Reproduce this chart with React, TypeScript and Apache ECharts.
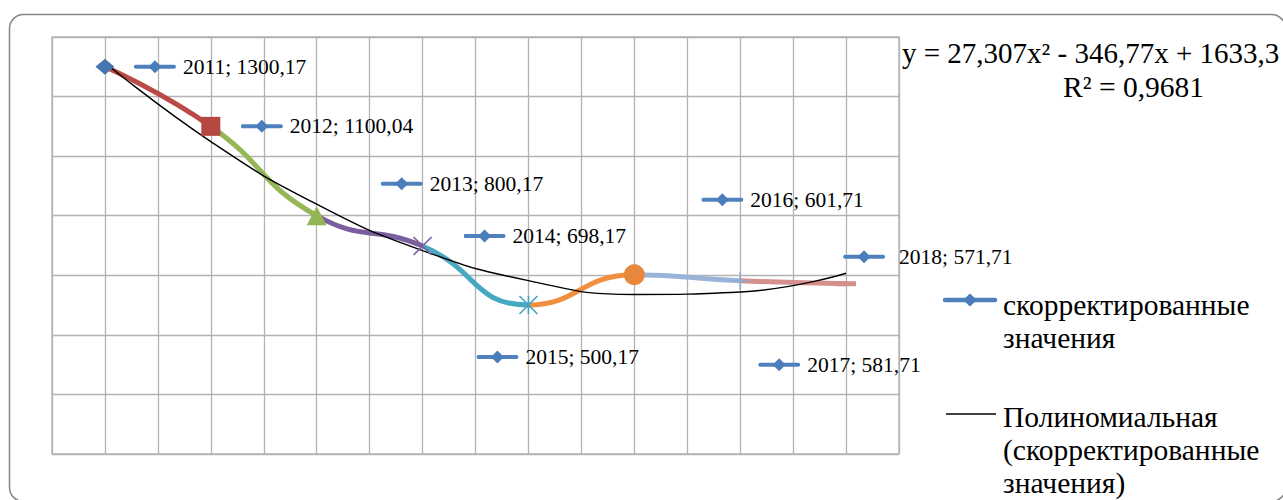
import React, { useEffect, useRef } from "react";
import * as echarts from "echarts";

// ---- data ----
const years = ["2011", "2012", "2013", "2014", "2015", "2016", "2017", "2018"];
const xPositions = [1, 2, 3, 4, 5, 6, 7, 8];
const values = [1300.17, 1100.04, 800.17, 698.17, 500.17, 601.71, 581.71, 571.71];
const valueLabels = ["1300,17", "1100,04", "800,17", "698,17", "500,17", "601,71", "581,71", "571,71"];
// polynomial trendline values read at each year
const trendValues = [1313.8, 1049.0, 838.8, 683.1, 582.1, 535.7, 544.0, 606.8];
const yAxisRange = { min: 0, max: 1400, interval: 200 };
const xAxisRange = { min: 0.5, max: 8.5, interval: 0.5 };
const seriesName = "скорректированные значения";
const trendName = "Полиномиальная (скорректированные значения)";
const legendLabels = ["скорректированные\nзначения", "Полиномиальная\n(скорректированные\nзначения)"];
const equationLines = ["y = 27,307x² - 346,77x + 1633,3", "R² = 0,9681"];

// ---- styles ----
const FONT = "'Liberation Serif', 'Times New Roman', serif";
const segmentColors = ["#BB4A46", "#96B755", "#7B5E9F", "#47A8C2", "#F0903F", "#9AB3D8", "#D5908E"];
const markerStyles = [
  { symbol: "diamond", size: [19, 16], color: "#4675B0", border: "#3B66A0", bw: 0 },
  { symbol: "rect", size: [19, 19], color: "#B64843", border: "#B64843", bw: 0 },
  { symbol: "triangle", size: [20, 19], color: "#93B554", border: "#93B554", bw: 0 },
  { symbol: "path://M0,0L10,10M10,0L0,10", size: [18, 18], color: "transparent", border: "#7B5E9F", bw: 1.6 },
  { symbol: "path://M0,0L10,10M10,0L0,10M5,0L5,10", size: [18, 18], color: "transparent", border: "#3FA4BF", bw: 1.6 },
  { symbol: "circle", size: [21, 21], color: "#E8883D", border: "#E8883D", bw: 0 },
  { symbol: "path://M5,0L5,10M0,5L10,5", size: [18, 18], color: "transparent", border: "#8EA9D4", bw: 1.6 },
  { symbol: "rect", size: [20, 5], color: "#D5908E", border: "#D5908E", bw: 0 },
];
const labelOffsets = [
  [28, 0], [29, 0], [63, -32], [40, -10], [-53, 52], [66, -75], [17, 84], [-4, -27],
];

const svgUri = (s: string) => "data:image/svg+xml;charset=utf-8," + encodeURIComponent(s);
const keyImage = (w: number) =>
  svgUri(
    `<svg xmlns='http://www.w3.org/2000/svg' width='${w}' height='16' viewBox='0 0 ${w} 16'>` +
      `<line x1='2' y1='8' x2='40' y2='8' stroke='#4F81BD' stroke-width='4' stroke-linecap='round'/>` +
      `<polygon points='21,1.5 27.5,8 21,14.5 14.5,8' fill='#4A7EBB'/></svg>`
  );
const legendIcon1 = svgUri(
  `<svg xmlns='http://www.w3.org/2000/svg' width='56' height='100' viewBox='0 0 56 100'>` +
    `<line x1='3' y1='29' x2='53' y2='29' stroke='#4F81BD' stroke-width='4.5' stroke-linecap='round'/>` +
    `<polygon points='28,22.5 35,29 28,35.5 21,29' fill='#4A7EBB'/></svg>`
);
const legendIcon2 = svgUri(
  `<svg xmlns='http://www.w3.org/2000/svg' width='56' height='100' viewBox='0 0 56 100'>` +
    `<line x1='4' y1='14' x2='54' y2='14' stroke='#000' stroke-width='1.6'/></svg>`
);

export default function App() {
  const ref = useRef<HTMLDivElement>(null);
  useEffect(() => {
    document.body.style.margin = "0";
    if (!ref.current) return;
    const chart = echarts.init(ref.current, undefined, { renderer: "svg" });

    const mainData = xPositions.map((x, i) => [x, values[i]]);
    const trendData = xPositions.map((x, i) => [x, trendValues[i]]);
    const markerData = xPositions.map((x, i) => ({
      value: [x, values[i]],
      symbol: markerStyles[i].symbol,
      symbolSize: markerStyles[i].size,
      itemStyle: {
        color: markerStyles[i].color,
        borderColor: markerStyles[i].border,
        borderWidth: markerStyles[i].bw,
        opacity: 1,
      },
    }));
    const labelData = xPositions.map((x, i) => ({
      value: [x, values[i]],
      label: { offset: labelOffsets[i] },
    }));
    const pieces = segmentColors.map((c, i) => {
      const p: any = { color: c };
      if (i > 0) p.gte = xPositions[i];
      if (i < segmentColors.length - 1) p.lt = xPositions[i + 1];
      return p;
    });

    const gridColor = "#B3B3B3";
    chart.setOption({
      animation: false,
      backgroundColor: "#fff",
      grid: { left: 52, top: 37, width: 847, height: 417, show: true, borderColor: gridColor, borderWidth: 1.3 },
      xAxis: {
        type: "value",
        min: xAxisRange.min,
        max: xAxisRange.max,
        interval: xAxisRange.interval,
        axisLabel: { show: false },
        axisTick: { show: false },
        axisLine: { show: false },
        splitLine: { show: true, lineStyle: { color: gridColor, width: 1.3 } },
      },
      yAxis: {
        type: "value",
        min: yAxisRange.min,
        max: yAxisRange.max,
        interval: yAxisRange.interval,
        axisLabel: { show: false },
        axisTick: { show: false },
        axisLine: { show: false },
        splitLine: { show: true, lineStyle: { color: gridColor, width: 1.3 } },
      },
      visualMap: {
        type: "piecewise",
        show: false,
        dimension: 0,
        seriesIndex: 0,
        pieces,
      },
      legend: {
        orient: "vertical",
        left: 942,
        top: 271,
        padding: 0,
        itemGap: 29,
        itemWidth: 56,
        itemHeight: 100,
        selectedMode: false,
        textStyle: { fontFamily: FONT, fontSize: 29.5, color: "#000", lineHeight: 33 },
        formatter: (name: string) => (name === seriesName ? legendLabels[0] : legendLabels[1]),
        data: [
          { name: seriesName, icon: "image://" + legendIcon1 },
          { name: trendName, icon: "image://" + legendIcon2 },
        ],
      },
      graphic: [
        {
          type: "rect",
          silent: true,
          shape: { x: 9.5, y: 14.5, width: 1276, height: 487, r: 14 },
          style: { fill: "none", stroke: "#868686", lineWidth: 1.5 },
          z: 100,
        },
        {
          type: "text",
          x: 902,
          y: 52.5,
          style: { text: equationLines[0], font: `29px ${FONT}`, fill: "#000", verticalAlign: "middle", align: "left" },
        },
        {
          type: "text",
          x: 1063,
          y: 87,
          style: { text: equationLines[1], font: `29.5px ${FONT}`, fill: "#000", verticalAlign: "middle", align: "left" },
        },
      ],
      series: [
        {
          name: seriesName,
          type: "line",
          data: mainData,
          smooth: 0.5,
          showSymbol: false,
          lineStyle: { width: 5 },
          z: 2,
          silent: true,
        },
        {
          name: trendName,
          type: "line",
          data: trendData,
          smooth: 0.5,
          showSymbol: false,
          lineStyle: { width: 1.4, color: "#000" },
          itemStyle: { color: "#000" },
          z: 3,
          silent: true,
        },
        {
          name: "markers",
          type: "scatter",
          data: markerData,
          z: 4,
          silent: true,
        },
        {
          name: "labels",
          type: "scatter",
          data: labelData,
          symbolSize: 2,
          itemStyle: { color: "transparent", opacity: 1 },
          z: 5,
          silent: true,
          label: {
            show: true,
            position: "right",
            distance: 0,
            formatter: (p: any) => {
              const i = p.dataIndex;
              const k = i === 7 ? "k2" : "k";
              return `{${k}|}{t|${years[i]}; ${valueLabels[i]}}`;
            },
            rich: {
              k: { width: 49, height: 16, backgroundColor: { image: keyImage(49) } },
              k2: { width: 56, height: 16, backgroundColor: { image: keyImage(56) } },
              t: { fontFamily: FONT, fontSize: 21.5, color: "#000" },
            },
          },
        },
      ],
    });
    return () => chart.dispose();
  }, []);
  return <div ref={ref} style={{ width: 1283, height: 500 }} />;
}
